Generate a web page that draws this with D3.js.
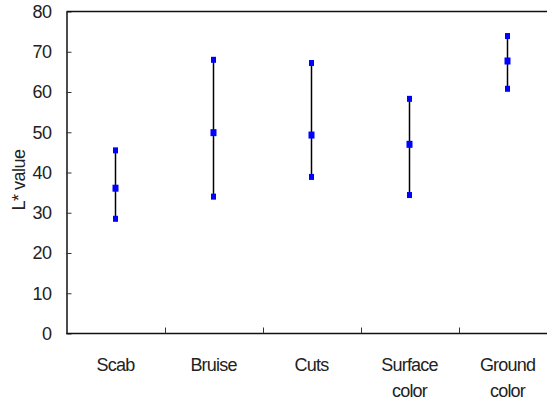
<!DOCTYPE html>
<html>
<head>
<meta charset="utf-8">
<script src="https://cdn.jsdelivr.net/npm/d3@7"></script>
<style>
  html, body { margin: 0; padding: 0; background: #fff; }
  svg { display: block; font-family: "Liberation Sans", Arial, sans-serif; }
</style>
</head>
<body>
<div id="chart"></div>
<script>
(function() {
    'use strict';

    // Data
    var categories = [['Scab'], ['Bruise'], ['Cuts'], ['Surface', 'color'], ['Ground', 'color']];
    var highValues = [45.5, 68.0, 67.2, 58.3, 73.9];
    var meanValues = [36.1, 49.9, 49.3, 47.0, 67.7];
    var lowValues  = [28.5, 34.0, 38.9, 34.4, 60.8];
    var yTicks = [0, 10, 20, 30, 40, 50, 60, 70, 80];

    var width = 547, height = 405;
    var margin = { top: 11.5, left: 66.5 };
    var plotBottom = 333.5;
    var plotRight = 556.5;   // plot runs past the right edge of the picture

    var keys = categories.map(function(c) { return c.join(' '); });

    var x = d3.scaleBand().domain(keys).range([margin.left, plotRight]);
    var y = d3.scaleLinear().domain([0, 80]).range([plotBottom, margin.top]);

    var svg = d3.select('#chart').append('svg')
        .attr('width', width)
        .attr('height', height);

    // Y axis (ticks pointing inward)
    var yAxis = d3.axisLeft(y)
        .tickValues(yTicks)
        .tickSizeInner(-5)
        .tickSizeOuter(0)
        .tickPadding(15);

    var yg = svg.append('g')
        .attr('transform', 'translate(' + margin.left + ',0)')
        .call(yAxis);
    yg.select('.domain').attr('stroke', '#111').attr('stroke-width', 1.5);
    yg.selectAll('.tick line').attr('stroke', '#333');
    yg.selectAll('.tick text')
        .attr('fill', '#222')
        .attr('font-size', '18px')
        .attr('letter-spacing', '-0.5px');

    // Top border
    svg.append('line')
        .attr('x1', margin.left).attr('x2', plotRight)
        .attr('y1', y(80)).attr('y2', y(80))
        .attr('stroke', '#111').attr('stroke-width', 1.5);

    // Bottom axis line
    svg.append('line')
        .attr('x1', margin.left).attr('x2', plotRight)
        .attr('y1', y(0)).attr('y2', y(0))
        .attr('stroke', '#111').attr('stroke-width', 1.5);

    // Category boundary ticks (inward)
    svg.append('g').selectAll('line')
        .data(keys.slice(1))
        .join('line')
        .attr('x1', function(d) { return Math.round(x(d)) + 0.5; })
        .attr('x2', function(d) { return Math.round(x(d)) + 0.5; })
        .attr('y1', y(0))
        .attr('y2', y(0) - 6)
        .attr('stroke', '#333');

    // Category labels
    var lab = svg.append('g').selectAll('text')
        .data(categories)
        .join('text')
        .attr('text-anchor', 'middle')
        .attr('fill', '#222')
        .attr('font-size', '18px')
        .attr('letter-spacing', '-0.8px')
        .attr('y', 371);
    lab.each(function(c, i) {
        var cx = x(keys[i]) + x.bandwidth() / 2;
        d3.select(this).selectAll('tspan')
            .data(c)
            .join('tspan')
            .attr('x', cx)
            .attr('dy', function(d, j) { return j === 0 ? 0 : 26; })
            .text(function(d) { return d; });
    });

    // Y axis title
    svg.append('text')
        .attr('transform', 'translate(25,' + 180 + ') rotate(-90)')
        .attr('text-anchor', 'middle')
        .attr('fill', '#222')
        .attr('font-size', '18px')
        .attr('letter-spacing', '-0.5px')
        .text('L* value');

    // Range lines
    var cxOf = function(i) { return x(keys[i]) + x.bandwidth() / 2; };
    svg.append('g').selectAll('line')
        .data(keys)
        .join('line')
        .attr('x1', function(d, i) { return cxOf(i); })
        .attr('x2', function(d, i) { return cxOf(i); })
        .attr('y1', function(d, i) { return y(highValues[i]); })
        .attr('y2', function(d, i) { return y(lowValues[i]); })
        .attr('stroke', '#000')
        .attr('stroke-width', 1.5);

    // Markers
    function markers(values, w, h) {
        svg.append('g').selectAll('rect')
            .data(values)
            .join('rect')
            .attr('x', function(d, i) { return cxOf(i) - w / 2; })
            .attr('y', function(d) { return y(d) - h / 2; })
            .attr('width', w)
            .attr('height', h)
            .attr('fill', '#0000ff');
    }
    markers(highValues, 5, 6);
    markers(lowValues, 5, 6);
    markers(meanValues, 6, 7);
})();
</script>
</body>
</html>
